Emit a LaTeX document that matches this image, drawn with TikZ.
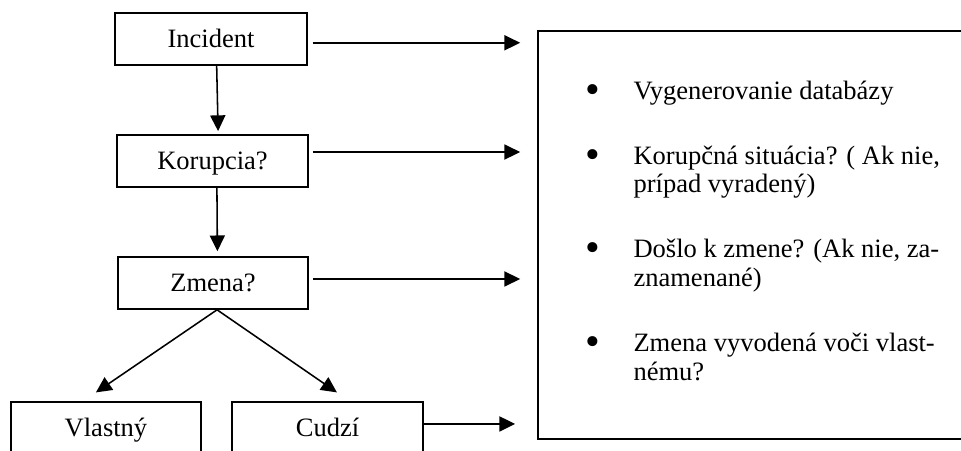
\documentclass[tikz,border=0pt]{standalone}
\usepackage{fontspec}
\setmainfont{Liberation Serif}
\usetikzlibrary{arrows.meta,positioning,calc}
\tikzset{
  box/.style={draw=black,fill=white,line width=0.7pt,minimum height=0.827cm,inner sep=2pt,text height=9.5pt,text depth=1.5pt,font=\fontsize{12}{13}\selectfont},
  infob/.style={draw=black,line width=0.7pt,minimum width=8cm,minimum height=6.49cm},
  arr/.style={-{Triangle[length=0.25cm,width=0.24cm]},line width=0.7pt,draw=black},
  lbl/.style={inner sep=0pt,font=\fontsize{12}{13}\selectfont},
}
\newcommand{\itemdot}{\raisebox{-1.8pt}{\fontsize{19}{19}\selectfont\textbullet}}

\begin{document}
\begin{tikzpicture}
  \useasboundingbox (0,0) rectangle (15.28,7.155);
  \node[box,minimum width=3.05cm] (inc) at (3.355,6.535) {Incident};
  \node[box,minimum width=3.04cm] (kor) at (3.379,4.595) {Korupcia?};
  \node[box,minimum width=3.02cm] (zme) at (3.387,2.655) {Zmena?};
  \node[box,minimum width=3.02cm] (vla) at (1.685,0.350) {Vlastný};
  \node[box,minimum width=3.04cm] (cud) at (5.207,0.350) {Cudzí};
  \node[infob,anchor=west] (info) at (8.54,3.419) {};
  \node[lbl,anchor=base west] (items) at ([xshift=0.76cm,yshift=-1.097cm]info.north west) {%
    \begin{tabular}[t]{@{}p{0.766cm}@{}l@{}}
    \itemdot & Vygenerovanie databázy\\[16.4pt]
    \itemdot & Korupčná situácia? ( Ak nie,\\
             & prípad vyradený)\\[16.4pt]
    \itemdot & Došlo k zmene? (Ak nie, za-\\
             & znamenané)\\[16.4pt]
    \itemdot & Zmena vyvodená voči vlast-\\
             & nému?
    \end{tabular}};
  \draw[arr,transform canvas={xshift=0.09cm},shorten >=0.05cm] (inc.south) -- (kor.north);
  \draw[arr,transform canvas={xshift=0.07cm},shorten >=0.08cm] (kor.south) -- (zme.north);
  \draw[arr] ([xshift=0.064cm]zme.south) -- ([xshift=-0.16cm,yshift=0.14cm]vla.north);
  \draw[arr] ([xshift=0.064cm]zme.south) -- ([xshift=0.15cm,yshift=0.14cm]cud.north);
  \draw[arr,transform canvas={yshift=-0.06cm},shorten <=0.08cm,shorten >=0.27cm] (inc.east) -- (inc.east -| info.west);
  \draw[arr,transform canvas={yshift=0.143cm},shorten <=0.064cm,shorten >=0.27cm] (kor.east) -- (kor.east -| info.west);
  \draw[arr,transform canvas={yshift=0.064cm},shorten <=0.064cm,shorten >=0.27cm] (zme.east) -- (zme.east -| info.west);
  \draw[arr,transform canvas={yshift=0.064cm},shorten >=0.35cm] (cud.east) -- (cud.east -| info.west);
\end{tikzpicture}
\end{document}
